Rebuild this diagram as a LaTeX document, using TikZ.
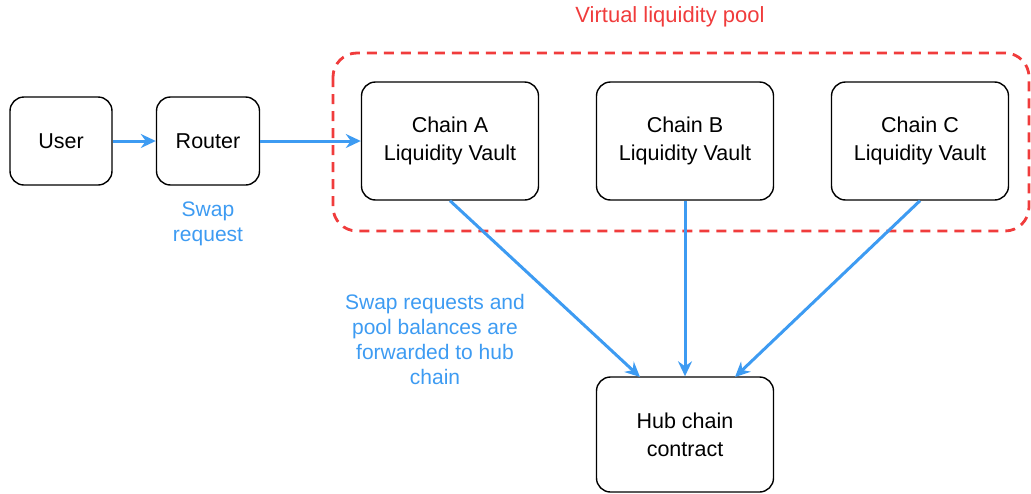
\documentclass[tikz,border=0pt]{standalone}
\usepackage{fontspec}
\setmainfont{Liberation Sans}
\usetikzlibrary{arrows.meta}
\definecolor{flowblue}{RGB}{61,155,242}
\definecolor{poolred}{RGB}{240,60,60}
\begin{document}
\begin{tikzpicture}[x=1pt,y=-1pt,
  box/.style={draw=black,line width=1.4pt,rounded corners=14pt,fill=white,align=center,
    font=\fontsize{21.5}{28}\selectfont,inner sep=0pt},
  flow/.style={draw=flowblue,line width=3pt,-{Stealth[length=15pt,width=14pt,inset=5pt]}},
  note/.style={text=flowblue,align=center,font=\fontsize{21}{25}\selectfont},
  pool/.style={draw=poolred,line width=2.8pt,dash pattern=on 10pt off 7pt,rounded corners=24pt}]
\useasboundingbox (0,0) rectangle (1031,493);
\draw[pool] (333,53) rectangle (1029,231);
\node[text=poolred,font=\fontsize{22}{26}\selectfont] (title) at (670,17) {Virtual liquidity pool};
\node[box,minimum width=102pt,minimum height=88pt] (user) at (61,141) {User};
\node[box,minimum width=103pt,minimum height=88pt] (router) at (208,141) {Router};
\node[box,minimum width=177pt,minimum height=118pt] (a) at (450,141) {Chain A\\Liquidity Vault};
\node[box,minimum width=177pt,minimum height=118pt] (b) at (685,141) {Chain B\\Liquidity Vault};
\node[box,minimum width=177pt,minimum height=118pt] (c) at (920,141) {Chain C\\Liquidity Vault};
\node[box,minimum width=177pt,minimum height=115pt] (hub) at (685,434.5) {Hub chain\\contract};
\node[note] (swap) at (208,224) {Swap\\request};
\node[note] (fwd) at (435,339) {Swap requests and\\pool balances are\\forwarded to hub\\chain};
\draw[flow] (user) -- (router);
\draw[flow] (router) -- (a);
\coordinate (ha) at (640,377);
\coordinate (hc) at (735,377);
\draw[flow] (a.south) -- (ha);
\draw[flow] (b.south) -- (hub.north);
\draw[flow] (c.south) -- (hc);
\end{tikzpicture}
\end{document}
